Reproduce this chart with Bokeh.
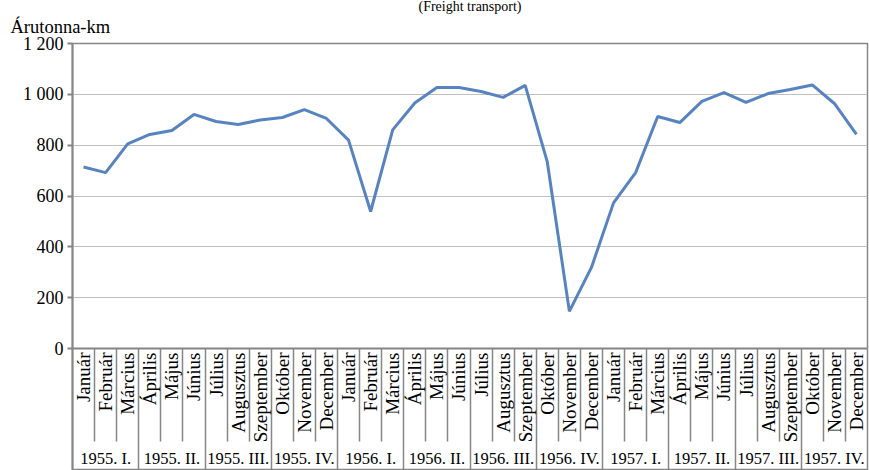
from math import pi
from bokeh.plotting import figure
from bokeh.models import (Range1d, FixedTicker, CustomJSTickFormatter, Title,
                          LinearAxis, ColumnDataSource)
from bokeh.embed import file_html
from bokeh.resources import INLINE

# ---------------- data ----------------
years = ["1955", "1956", "1957"]
quarters = ["I", "II", "III", "IV"]
months = ["Január", "Február", "Március", "Április", "Május", "Június",
          "Július", "Augusztus", "Szeptember", "Október", "November", "December"]
values_1955 = [714, 692, 805, 842, 858, 921, 893, 881, 899, 909, 940, 905]
values_1956 = [820, 539, 860, 966, 1027, 1027, 1011, 988, 1035, 734, 146, 319]
values_1957 = [573, 692, 913, 889, 972, 1007, 968, 1003, 1019, 1037, 964, 842]
y_ticks = [0, 200, 400, 600, 800, 1000, 1200]
title_text = "(Freight transport)"
y_label = "Árutonna-km"

values = values_1955 + values_1956 + values_1957
month_labels = months * len(years)
quarter_labels = [f"{yr}. {q}." for yr in years for q in quarters]
n = len(month_labels)
nq = len(quarter_labels)
per_q = n // nq

# category slots: slot i spans [i, i+1], its centre at i + 0.5
x_pos = [i + 0.5 for i in range(n)]
q_pos = [q * per_q + per_q / 2 for q in range(nq)]
q_bounds = [q * per_q for q in range(1, nq)]
m_bounds = [k for k in range(1, n) if k % per_q != 0]

FONT = "Liberation Serif"
GRAY = "#868686"

W, H = 869, 470
TOP, LEFT, RIGHT = 43, 72, 2
PLOT_H = 305          # pixel height of the value area (0 .. 1200)
frame_h = H - TOP     # frame extends down through the category-label area
y_min = y_ticks[0] - (frame_h - PLOT_H) * (y_ticks[-1] - y_ticks[0]) / PLOT_H

p = figure(x_range=Range1d(0, n), y_range=Range1d(y_min, y_ticks[-1]),
           width=W, height=H, output_backend="svg", toolbar_location=None,
           title=None, x_axis_location=None,
           min_border_left=LEFT, min_border_right=RIGHT,
           min_border_top=TOP, min_border_bottom=0)

p.background_fill_color = "white"
p.border_fill_color = "white"
p.outline_line_color = GRAY
p.outline_line_width = 1.5

# grid
p.xgrid.grid_line_color = None
p.ygrid.grid_line_color = "#c0c0c0"
p.ygrid.grid_line_width = 1

src = ColumnDataSource(dict(x=x_pos, y=values))
p.line(x="x", y="y", source=src, line_color="#5784c0", line_width=3)

# y axis
ya = p.yaxis[0]
ya.ticker = FixedTicker(ticks=y_ticks)
ya.formatter = CustomJSTickFormatter(
    code="return Math.round(tick).toString().replace(/\\B(?=(\\d{3})+(?!\\d))/g, ' ');")
ya.axis_line_color = GRAY
ya.axis_line_width = 2
ya.major_tick_line_color = GRAY
ya.major_tick_line_width = 2
ya.major_tick_out = 5
ya.major_tick_in = 0
ya.minor_tick_line_color = None
ya.major_label_text_font = FONT
ya.major_label_text_font_size = "18px"
ya.major_label_text_color = "black"
ya.major_label_standoff = 4

# separators between categories (Excel-like tick marks)
sep_axis = LinearAxis(fixed_location=y_ticks[0],
                      ticker=FixedTicker(ticks=q_bounds, minor_ticks=m_bounds),
                      formatter=CustomJSTickFormatter(code="return '';"),
                      axis_line_color=None,
                      major_tick_out=frame_h - PLOT_H + 5, major_tick_in=0,
                      major_tick_line_color=GRAY, major_tick_line_width=1.5,
                      minor_tick_out=93, minor_tick_in=0,
                      minor_tick_line_color=GRAY, minor_tick_line_width=1.5,
                      major_label_text_font_size="1px")
p.add_layout(sep_axis, "below")

# month labels (axis at value 0)
month_axis = LinearAxis(fixed_location=y_ticks[0],
                        ticker=FixedTicker(ticks=x_pos, minor_ticks=[]),
                        formatter=CustomJSTickFormatter(args=dict(labels=month_labels),
                                                        code="return labels[Math.floor(tick)];"),
                        axis_line_color=GRAY, axis_line_width=2,
                        major_tick_line_color=None, major_tick_out=0, major_tick_in=0,
                        minor_tick_line_color=None,
                        major_label_orientation=pi / 2,
                        major_label_text_font=FONT, major_label_text_font_size="19px",
                        major_label_text_color="black", major_label_standoff=4)
p.add_layout(month_axis, "below")

# quarter labels
quarter_axis = LinearAxis(fixed_location=y_ticks[0],
                          ticker=FixedTicker(ticks=q_pos, minor_ticks=[]),
                          formatter=CustomJSTickFormatter(args=dict(labels=quarter_labels, per_q=per_q),
                                                          code="return labels[Math.floor(tick / per_q)];"),
                          axis_line_color=None,
                          major_tick_line_color=None, major_tick_out=0, major_tick_in=0,
                          minor_tick_line_color=None,
                          major_label_orientation="horizontal",
                          major_label_text_font=FONT, major_label_text_font_size="16.5px",
                          major_label_text_color="black", major_label_standoff=100)
p.add_layout(quarter_axis, "below")

# texts above the plot
p.add_layout(Title(text=y_label, align="left", offset=-62, standoff=13,
                   text_font=FONT, text_font_size="18.5px", text_font_style="normal",
                   text_color="black"), "above")
p.add_layout(Title(text=title_text, align="center", standoff=-10,
                   text_font=FONT, text_font_size="14px", text_font_style="normal",
                   text_color="black"), "above")

open("out.html", "w").write(file_html(p, INLINE))
